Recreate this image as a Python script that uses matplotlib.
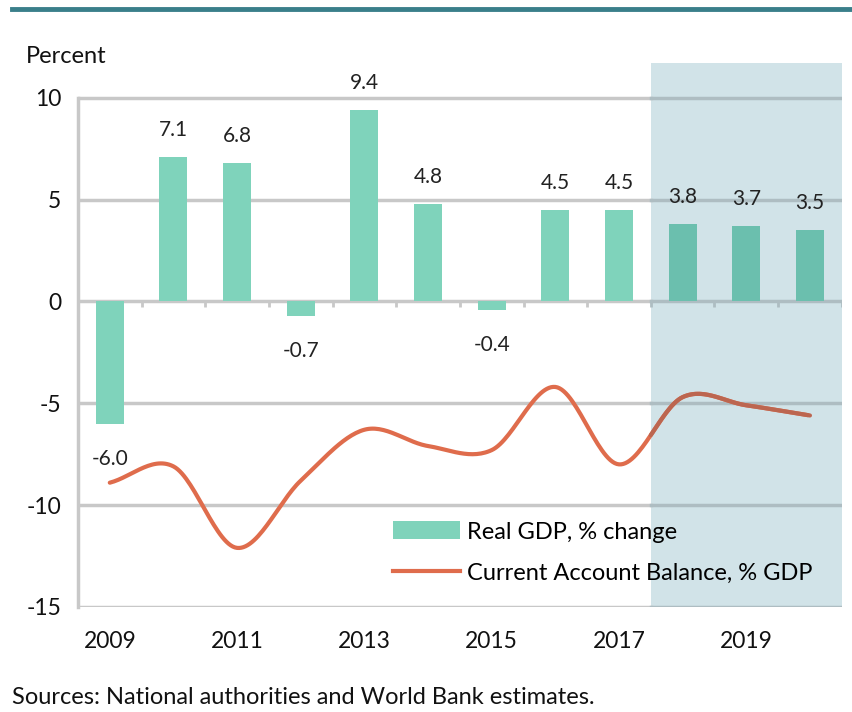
import numpy as np
import matplotlib.pyplot as plt
from matplotlib.patches import Patch
from matplotlib.lines import Line2D

plt.rcParams['font.family'] = ['Lato', 'DejaVu Sans']

years = [2009, 2010, 2011, 2012, 2013, 2014, 2015, 2016, 2017, 2018, 2019, 2020]
gdp = [-6.0, 7.1, 6.8, -0.7, 9.4, 4.8, -0.4, 4.5, 4.5, 3.8, 3.7, 3.5]
cab = [-8.9, -8.1, -12.1, -8.8, -6.3, -7.1, -7.3, -4.2, -8.0, -4.7, -5.1, -5.6]
first_forecast = 2018
tick_years = [2009, 2011, 2013, 2015, 2017, 2019]
yticks = [-15, -10, -5, 0, 5, 10]

bar_color = '#7fd3bb'
bar_color_shade = '#6bbfae'
line_color = '#df6c4c'
line_color_shade = '#bc6650'
grid_color = '#c8c8c8'
grid_color_shade = '#aebdc2'
shade_color = '#d1e3e8'


# smooth line like excel (catmull-rom)
def smooth(x, y, n=30):
    x = np.asarray(x, float)
    y = np.asarray(y, float)
    px = np.concatenate([[2 * x[0] - x[1]], x, [2 * x[-1] - x[-2]]])
    py = np.concatenate([[2 * y[0] - y[1]], y, [2 * y[-1] - y[-2]]])
    xs, ys = [], []
    for i in range(1, len(px) - 2):
        t = np.linspace(0, 1, n, endpoint=False)
        for p, out in ((px, xs), (py, ys)):
            p0, p1, p2, p3 = p[i - 1], p[i], p[i + 1], p[i + 2]
            out.extend(0.5 * (2 * p1 + (-p0 + p2) * t
                              + (2 * p0 - 5 * p1 + 4 * p2 - p3) * t ** 2
                              + (-p0 + 3 * p1 - 3 * p2 + p3) * t ** 3))
    xs.append(x[-1])
    ys.append(y[-1])
    return np.array(xs), np.array(ys)


fig = plt.figure(figsize=(8.52, 7.12), dpi=100)
ax = fig.add_axes([0.0915, 0.1475, 0.8965, 0.764])

x0, x1 = years[0] - 0.5, years[-1] + 0.5
ax.set_xlim(x0, x1)
ax.set_ylim(-15, 11.7)

# shaded forecast area
shade_start = first_forecast - 0.5
ax.axvspan(shade_start, x1, color=shade_color, lw=0, zorder=0)

for v in yticks:
    ax.plot([x0, shade_start], [v, v], color=grid_color, lw=2.5, zorder=1)
    ax.plot([shade_start, x1], [v, v], color=grid_color_shade, lw=2.5, zorder=1)
ax.plot([x0, x0], [-15, 10], color=grid_color, lw=2.5, zorder=1, clip_on=False)

# small category ticks on the zero line
bounds = [y + 0.5 for y in years]
ax.vlines(bounds, -0.28, 0, colors=[grid_color if b < shade_start else grid_color_shade
                                     for b in bounds], lw=2, zorder=1)

colors = [bar_color_shade if y >= first_forecast else bar_color for y in years]
ax.bar(years, gdp, width=0.44, color=colors, zorder=2)

sx, sy = smooth(years, cab)
m = sx >= shade_start
ax.plot(sx[~m | np.roll(m, -1)], sy[~m | np.roll(m, -1)], color=line_color, lw=3,
        zorder=3, solid_capstyle='round')
ax.plot(sx[m], sy[m], color=line_color_shade, lw=3, zorder=3, solid_capstyle='round')

for x, v in zip(years, gdp):
    if v >= 0:
        ax.annotate(f'{v:.1f}', (x, v), xytext=(0, 12), textcoords='offset points',
                    ha='center', va='bottom', fontsize=15, color='#222222', zorder=5)
    else:
        ax.annotate(f'{v:.1f}', (x, v), xytext=(0, -18), textcoords='offset points',
                    ha='center', va='top', fontsize=15, color='#222222', zorder=5)

for s in ax.spines.values():
    s.set_visible(False)
ax.set_yticks(yticks)
ax.set_yticklabels([str(v) for v in yticks], fontsize=16.5, color='#111111')
ax.set_xticks(tick_years)
ax.set_xticklabels([str(v) for v in tick_years], fontsize=16.5, color='#111111')
ax.tick_params(length=0, axis='y', pad=12)
ax.tick_params(length=0, axis='x', pad=17)

handles = [Patch(color=bar_color, lw=0), Line2D([], [], color=line_color, lw=3)]
leg = ax.legend(handles, ['Real GDP, % change', 'Current Account Balance, % GDP'],
                loc='center left', bbox_to_anchor=(0.412, 0.10), frameon=False,
                borderpad=0, borderaxespad=0,
                fontsize=17, handlelength=2.85, handleheight=0.8, handletextpad=0.3,
                labelspacing=0.85)
leg.set_zorder(6)

fig.text(0.03, 0.92, 'Percent', fontsize=17, color='#111111', va='center')
fig.text(0.014, 0.021, 'Sources: National authorities and World Bank estimates.',
         fontsize=17, color='#111111', va='center')
fig.add_artist(Line2D([0.014, 1.0], [0.988, 0.988], color='#3a7f8a', lw=3.5))

fig.savefig('out.png', dpi=100)
